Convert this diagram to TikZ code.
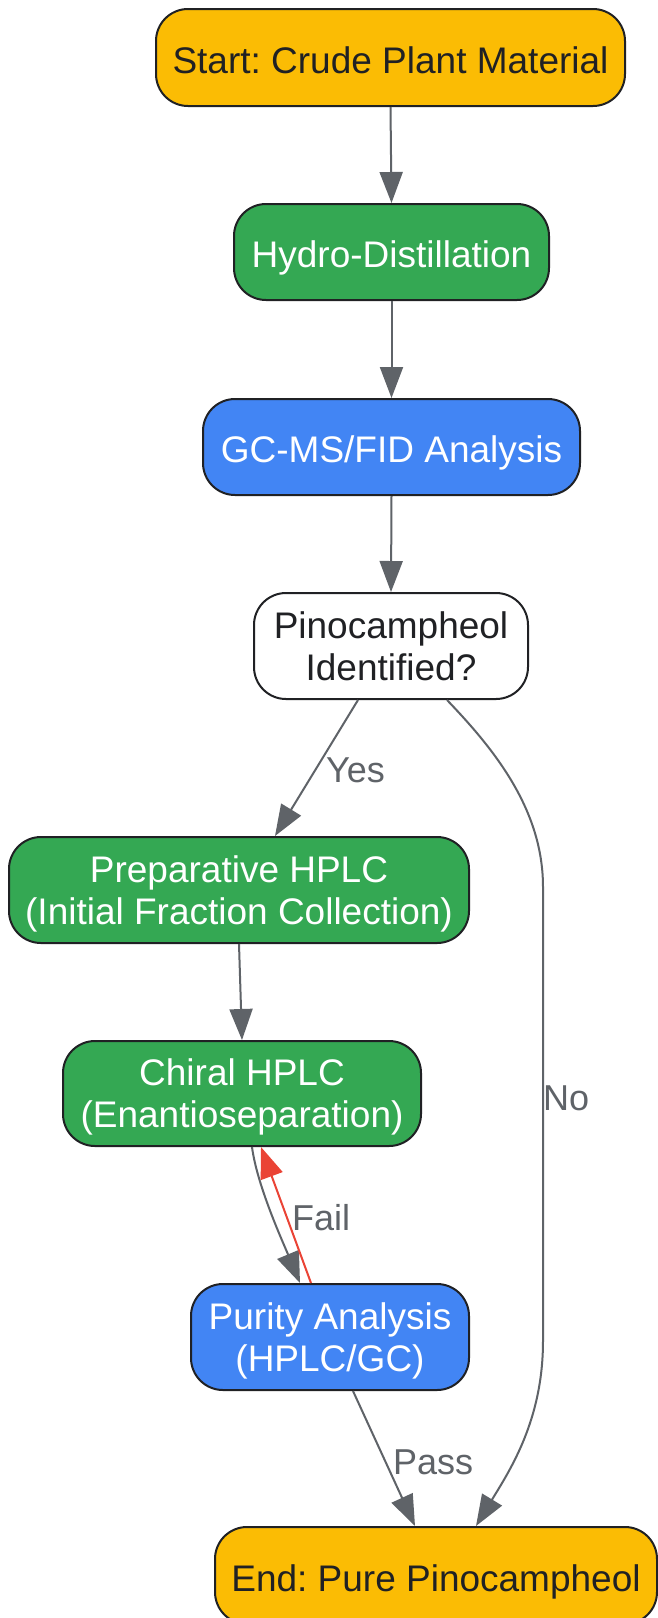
\documentclass[tikz,border=0pt]{standalone}
\usepackage{fontspec}
\setmainfont{Liberation Sans}
\usetikzlibrary{arrows.meta,calc}
\definecolor{cyellow}{HTML}{FBBC04}
\definecolor{cgreen}{HTML}{34A853}
\definecolor{cblue}{HTML}{4285F4}
\definecolor{cdark}{HTML}{202124}
\definecolor{cgray}{HTML}{5F6368}
\definecolor{cred}{HTML}{EA4335}
\frenchspacing
\newcommand\oneline[1]{\rule{0pt}{31pt}\smash{#1}}
\begin{document}
\begin{tikzpicture}[x=1pt,y=-1pt,
  box/.style={draw=cdark, line width=2pt, rounded corners=32pt, align=center, inner sep=0pt,
              font=\fontsize{37}{42}\selectfont},
  yellowbox/.style={box, fill=cyellow, text=cdark},
  greenbox/.style={box, fill=cgreen, text=white},
  bluebox/.style={box, fill=cblue, text=white},
  whitebox/.style={box, fill=white, text=cdark},
  edge/.style={draw=cgray, line width=2pt, -{Triangle[length=31pt,width=23pt]}},
  failedge/.style={draw=cred, line width=2pt, -{Triangle[length=31pt,width=23pt]}},
  lbl/.style={text=cgray, font=\fontsize{36}{40}\selectfont, inner sep=0pt, anchor=base west}]
\useasboundingbox[fill=white] (0,0) rectangle (657,1618);

\node[yellowbox, minimum width=469pt, minimum height=97pt] (start) at (390.5,57.5) {\oneline{Start: Crude Plant Material}};
\node[greenbox, minimum width=315pt, minimum height=96pt] (hydro) at (391.5,252) {\oneline{Hydro-Distillation}};
\node[bluebox, minimum width=377pt, minimum height=96pt] (gc) at (391.5,447) {\oneline{GC-MS/FID Analysis}};
\node[whitebox, minimum width=274pt, minimum height=106pt] (pino) at (391,646) {Pinocampheol\\\smash{Identified?}};
\node[greenbox, minimum width=460pt, minimum height=106pt] (prep) at (239,890) {Preparative HPLC\\\smash{(Initial Fraction Collection)}};
\node[greenbox, minimum width=358pt, minimum height=105pt] (chiral) at (242,1093.5) {Chiral HPLC\\\smash{(Enantioseparation)}};
\node[bluebox, minimum width=278pt, minimum height=106pt] (purity) at (330,1337) {Purity Analysis\\\smash{(HPLC/GC)}};
\node[yellowbox, minimum width=442pt, minimum height=97pt] (end) at (436,1575.5) {\oneline{End: Pure Pinocampheol}};

\draw[edge] (start.south) -- (hydro.north);
\draw[edge] (hydro.south) -- (gc.north);
\draw[edge] (gc.south) -- (pino.north);
\draw[edge] ([xshift=-33pt]pino.south) -- ([xshift=36pt]prep.north);
\draw[edge] ([xshift=56pt]pino.south) .. controls (495,750) and (543,810) .. (543,887)
   -- (543,1341) .. controls (543,1420) and (510,1470) .. ([xshift=40pt]end.north);
\draw[edge] (prep.south) -- (chiral.north);
\draw[edge] ([xshift=10pt]chiral.south) .. controls (257,1185) and (282,1240) .. ([xshift=-30pt]purity.north);
\draw[failedge] ([xshift=-19pt]purity.north) -- ([xshift=19pt]chiral.south);
\draw[edge] ([xshift=23pt]purity.south) -- ([xshift=-21pt]end.north);

\node[lbl] (lyes) at (326,782) {Yes};
\node[lbl] (lno) at (543,1110) {No};
\node[lbl] (lfail) at (292,1230) {Fail};
\node[lbl] (lpass) at (393,1474) {Pass};
\end{tikzpicture}
\end{document}
